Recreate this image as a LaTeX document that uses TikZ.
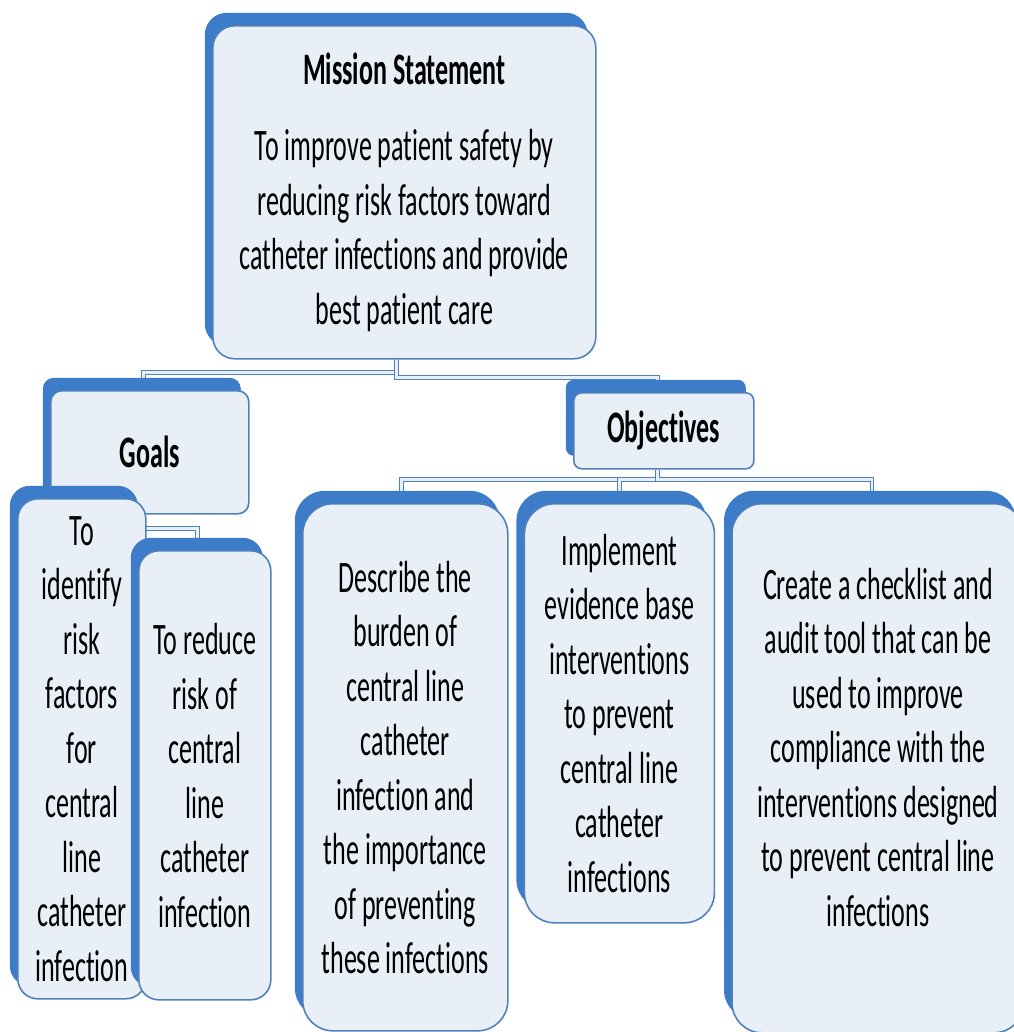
\documentclass[tikz,border=0pt]{standalone}
\usepackage{fontspec}
\setmainfont[FakeStretch=0.578,Ligatures=NoCommon]{Carlito}
\usepackage{tikz}
\usetikzlibrary{positioning,shadows,backgrounds}
\definecolor{cardblue}{RGB}{60,124,200}
\definecolor{cardline}{RGB}{79,129,189}
\definecolor{cardfill}{RGB}{233,239,247}

\begin{document}
\begin{tikzpicture}[x=0.5pt,y=-0.5pt]
	\tikzstyle{card}=[draw=cardline, line width=0.8pt, fill=cardfill, rounded corners=11pt, align=center, inner sep=0pt, anchor=north west, font=\fontsize{22.5}{27.25}\selectfont, general shadow={fill=cardblue, shadow xshift=-4pt, shadow yshift=6.5pt}]
	\tikzstyle{link}=[draw=cardline, line width=0.5pt, double=cardfill, double distance=1.4pt]
	\useasboundingbox (0,0) rectangle (1013,1032);
		\node[card, minimum width=191.5pt, minimum height=166.5pt] (mission) at (212,25) {\textbf{Mission Statement}\\[11pt] To improve patient safety by\\ reducing risk factors toward\\ catheter infections and provide\\ best patient care};
		\node[card, rounded corners=5.5pt, minimum width=99pt, minimum height=61.5pt] (goals) at (50,390) {\textbf{Goals}};
		\node[card, rounded corners=4pt, minimum width=90pt, minimum height=38pt] (objectives) at (573,392) {\textbf{Objectives}};
		\node[card, rounded corners=10pt, minimum width=64pt, minimum height=250pt] (goal1) at (17,498) {To\\ identify\\ risk\\ factors\\ for\\ central\\ line\\ catheter\\ infection};
		\node[card, rounded corners=10pt, minimum width=66pt, minimum height=224.5pt] (goal2) at (138,550) {To reduce\\ risk of\\ central\\ line\\ catheter\\ infection};
		\node[card, rounded corners=15pt, minimum width=102.5pt, minimum height=263.5pt] (obj1) at (302,503) {Describe the\\ burden of\\ central line\\ catheter\\ infection and\\ the importance\\ of preventing\\ these infections};
		\node[card, rounded corners=15pt, minimum width=95pt, minimum height=209.5pt, right=7.5pt of obj1.north east, anchor=north west] (obj2) {Implement\\ evidence base\\ interventions\\ to prevent\\ central line\\ catheter\\ infections};
		\node[card, rounded corners=15pt, minimum width=146pt, minimum height=264.5pt, right=8pt of obj2.north east, anchor=north west] (obj3) {Create a checklist and\\ audit tool that can be\\ used to improve\\ compliance with the\\ interventions designed\\ to prevent central line\\ infections\\[-6pt]\mbox{}};
		\begin{scope}[on background layer]
			\coordinate (goaljoint) at ([yshift=-7pt]goals.south);
			\draw[link] ([xshift=-4pt]mission.south) -- ++(0,-6.5pt) -| ([xshift=-3pt]goals.north);
			\draw[link] ([xshift=-4pt]mission.south) -- ++(0,-9pt) -| ([xshift=-3pt]objectives.north);
			\draw[link] (goaljoint -| goal1.north) -| ([xshift=-3.5pt]goal2.north);
			\draw[link] ([xshift=-3pt]objectives.south) -- ++(0,-5pt) -| ([xshift=-2pt]obj1.north);
			\draw[link] ([xshift=-3pt]objectives.south) -- ++(0,-5pt) -| (obj2.north);
			\draw[link] ([xshift=-3pt]objectives.south) -- ++(0,-5pt) -| ([xshift=-3pt]obj3.north);
		\end{scope}
\end{tikzpicture}
\end{document}
